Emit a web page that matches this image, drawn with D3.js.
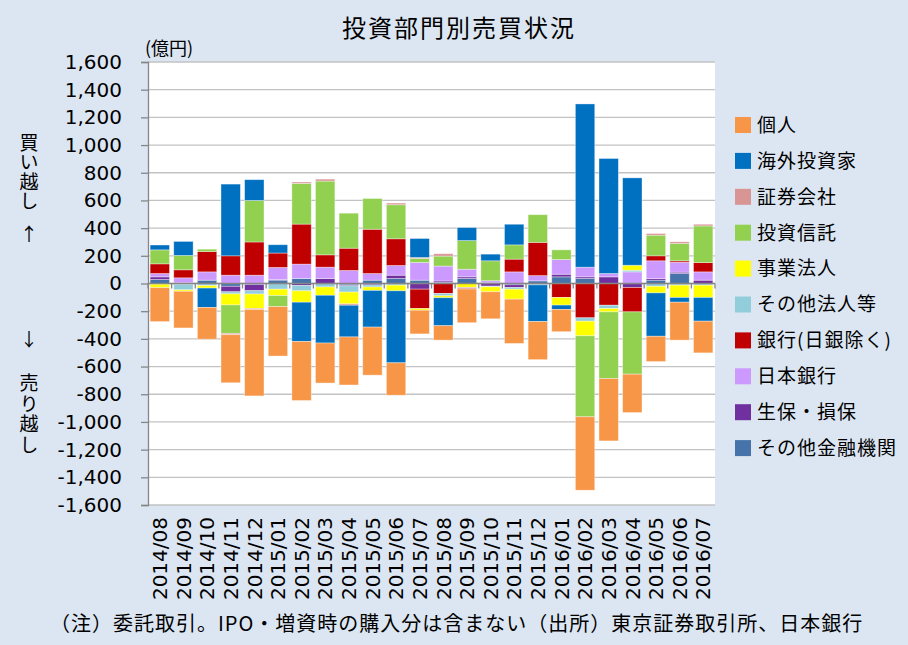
<!DOCTYPE html>
<html><head><meta charset="utf-8">
<script src="https://cdn.jsdelivr.net/npm/d3@7"></script>
<style>body{margin:0;background:#dce6f2;} svg{display:block;}</style>
</head><body><svg id="c" width="908" height="645"></svg>
<script>
const months = ["2014/08","2014/09","2014/10","2014/11","2014/12","2015/01","2015/02","2015/03","2015/04","2015/05","2015/06","2015/07","2015/08","2015/09","2015/10","2015/11","2015/12","2016/01","2016/02","2016/03","2016/04","2016/05","2016/06","2016/07"];
const yTicks = [-1600,-1400,-1200,-1000,-800,-600,-400,-200,0,200,400,600,800,1000,1200,1400,1600];

const individuals  = [-245,-265,-229,-347,-624,-357,-426,-289,-347,-347,-234,-171,-104,-243,-195,-320,-275,-161,-530,-450,-277,-183,-274,-229];
const foreign      = [35,101,-140,518,150,60,-284,-345,-229,-265,-520,137,-202,94,48,149,-265,-31,1179,831,631,-313,-34,-171];
const securities   = [0,0,0,-10,-8,0,10,14,-10,0,12,7,17,-12,0,0,0,0,0,0,0,12,12,12];
const invTrust     = [101,104,17,-205,300,-80,294,533,253,222,246,29,72,207,144,103,200,70,-585,-482,-450,149,125,265];
const businessCorp = [-25,-10,-18,-80,-104,-46,-82,-60,-85,-25,-41,-12,-14,-28,-36,-72,0,-55,-106,-24,36,-48,-89,-89];
const otherCorp    = [-5,-38,-15,-15,-24,-41,-38,-25,-45,-15,-12,0,-17,0,-5,-12,-10,0,-24,-24,12,-20,-12,-12];
const banks        = [70,58,147,140,240,104,289,89,161,320,193,-140,-72,0,0,92,240,-101,-248,-157,-176,36,10,67];
const boj          = [24,36,60,60,60,87,104,82,94,48,70,128,108,55,15,84,38,106,70,24,84,128,72,60];
const insurers     = [19,5,0,-40,-45,5,-15,36,-7,-10,24,-41,10,12,-19,-20,0,19,12,48,-29,12,10,24];
const otherFin     = [29,-8,24,-20,-7,24,36,0,-10,24,36,24,8,36,5,-9,19,48,36,0,0,24,72,0];

const seriesNames  = ["その他金融機関","生保・損保","日本銀行","銀行(日銀除く)","その他法人等","事業法人","投資信託","証券会社","海外投資家","個人"];
const seriesColors = ["#4674aa","#7030a0","#cc99ff","#c00000","#92cddc","#ffff00","#92d050","#d99594","#0070c0","#f79646"];
const seriesValues = [otherFin,insurers,boj,banks,otherCorp,businessCorp,invTrust,securities,foreign,individuals];

const title = "投資部門別売買状況";
const unitLabel = "(億円)";
const footnote = "（注）委託取引。IPO・増資時の購入分は含まない（出所）東京証券取引所、日本銀行";
const buyLabel = "買い越し", sellLabel = "売り越し", upArrow = "↑", downArrow = "↓";

const W = 908, H = 645;
const plot = {l:148, r:715, t:62, b:505};
const svg = d3.select("#c");
const jp = "'Noto Sans CJK JP','DejaVu Sans',sans-serif";
const lat = "'DejaVu Sans','Noto Sans CJK JP',sans-serif";

svg.append("rect").attr("width",W).attr("height",H).attr("fill","#dce6f2");
svg.append("rect").attr("x",plot.l).attr("y",plot.t).attr("width",plot.r-plot.l).attr("height",plot.b-plot.t).attr("fill","#fff");

const x = d3.scaleBand().domain(months).range([plot.l,plot.r]).paddingInner(0.18).paddingOuter(0.09);
const y = d3.scaleLinear().domain([-1600,1600]).range([plot.b,plot.t]);

// grid
svg.append("g").selectAll("line").data(yTicks).join("line")
  .attr("x1",plot.l).attr("x2",plot.r).attr("y1",d=>y(d)).attr("y2",d=>y(d))
  .attr("stroke","#c3c3c3").attr("stroke-width",1.3);

const rows = months.map((m,i)=>{const r={month:m}; seriesNames.forEach((n,k)=>r[n]=seriesValues[k][i]); return r;});
const stacked = d3.stack().keys(seriesNames).offset(d3.stackOffsetDiverging)(rows);

const gBars = svg.append("g");
stacked.forEach((s,k)=>{
  gBars.append("g").attr("fill",seriesColors[k]).selectAll("rect")
    .data(s.filter(d=>d[1]!==d[0])).join("rect")
    .attr("x",d=>x(d.data.month)).attr("width",x.bandwidth())
    .attr("y",d=>y(Math.max(d[0],d[1])))
    .attr("height",d=>Math.abs(y(d[0])-y(d[1])))
    .attr("stroke","rgba(255,255,255,0.45)").attr("stroke-width",0.8);
});

// left axis
const fmt = d3.formatLocale({decimal:".",thousands:",",grouping:[3],currency:["",""],minus:"-"}).format(",");
const ax = svg.append("g").attr("transform",`translate(${plot.l},0)`)
  .call(d3.axisLeft(y).tickValues(yTicks).tickSize(7).tickPadding(19).tickFormat(fmt));
ax.select(".domain").attr("stroke","#868686").attr("stroke-width",1.3);
ax.selectAll(".tick line").attr("stroke","#868686").attr("stroke-width",1.3);
ax.selectAll(".tick text").attr("font-family",lat).attr("font-size",20).attr("fill","#000");

// category axis at zero
const y0 = y(0);
svg.append("line").attr("x1",plot.l).attr("x2",plot.r).attr("y1",y0).attr("y2",y0).attr("stroke","#868686").attr("stroke-width",1.5);
const edges = months.map(m=>x(m)-x.step()*x.paddingInner()/2).concat([plot.r]);
svg.append("g").selectAll("line").data(edges).join("line")
  .attr("x1",d=>d).attr("x2",d=>d).attr("y1",y0).attr("y2",y0+5)
  .attr("stroke","#868686").attr("stroke-width",1.3);

// x labels
svg.append("g").selectAll("text").data(months).join("text")
  .attr("transform",d=>`translate(${x(d)+x.bandwidth()/2},${plot.b+12}) rotate(-90)`)
  .attr("text-anchor","end").attr("dy","0.36em")
  .attr("font-family",lat).attr("font-size",20).attr("fill","#000").text(d=>d);

// title
svg.append("text").attr("x",459).attr("y",37).attr("text-anchor","middle")
  .attr("font-family",jp).attr("font-size",24).attr("letter-spacing",2).attr("fill","#000").text(title);
svg.append("text").attr("x",145).attr("y",55).attr("font-family",jp).attr("font-size",18).attr("fill","#000").text(unitLabel);

// vertical side labels
svg.append("text").attr("x",29).attr("y",133).style("writing-mode","vertical-rl")
  .attr("font-family",jp).attr("font-size",19).attr("letter-spacing",0.5).attr("fill","#000").text(buyLabel);
svg.append("text").attr("x",29).attr("y",373).style("writing-mode","vertical-rl")
  .attr("font-family",jp).attr("font-size",19).attr("letter-spacing",1.8).attr("fill","#000").text(sellLabel);
svg.append("text").attr("x",29).attr("y",235).attr("dy","0.36em").attr("text-anchor","middle")
  .attr("font-family",jp).attr("font-size",18).attr("fill","#000").text(upArrow);
svg.append("text").attr("x",29).attr("y",340).attr("dy","0.36em").attr("text-anchor","middle")
  .attr("font-family",jp).attr("font-size",18).attr("fill","#000").text(downArrow);

// legend
const legendOrder = seriesNames.map((n,k)=>({n,c:seriesColors[k]})).reverse();
const lg = svg.append("g").selectAll("g").data(legendOrder).join("g")
  .attr("transform",(d,i)=>`translate(735,${125+i*35.9})`);
lg.append("rect").attr("x",0).attr("y",-8).attr("width",16).attr("height",16).attr("fill",d=>d.c);
lg.append("text").attr("x",22).attr("dy","0.36em").attr("font-family",jp).attr("font-size",19).attr("letter-spacing",1).attr("fill","#000").text(d=>d.n);

// footnote
svg.append("text").attr("x",50).attr("y",631).attr("font-family",jp).attr("font-size",20).attr("letter-spacing",1.0).attr("fill","#000").text(footnote);
</script></body></html>
